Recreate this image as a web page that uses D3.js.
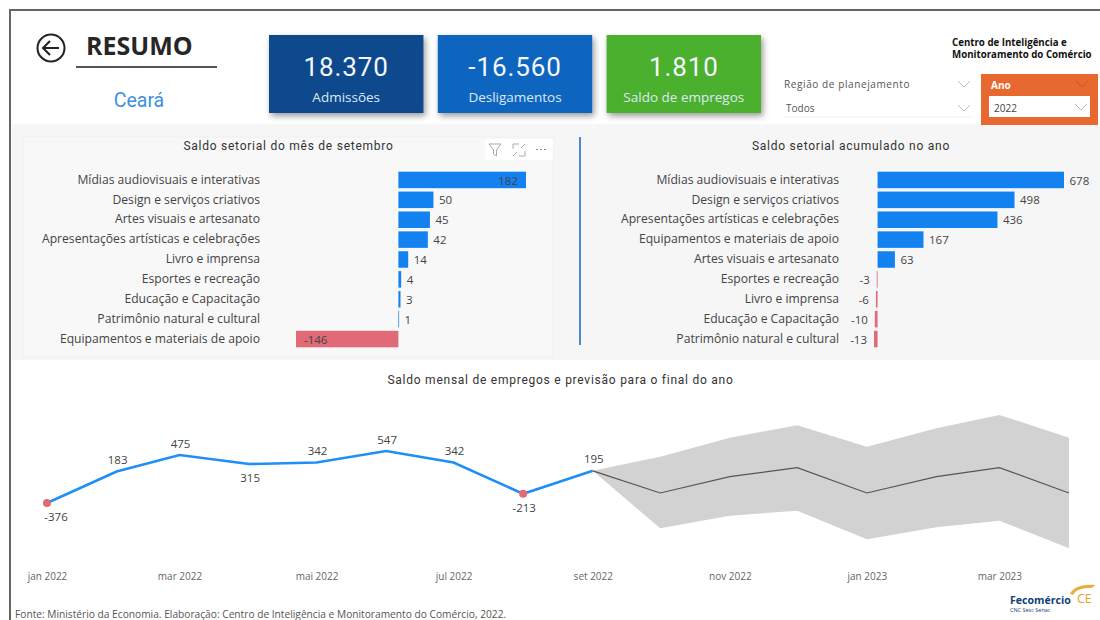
<!DOCTYPE html>
<html lang="pt"><head><meta charset="utf-8">
<script src="https://cdn.jsdelivr.net/npm/d3@7/dist/d3.min.js"></script>
<style>html,body{margin:0;padding:0;background:#fff;overflow:hidden}svg{display:block}</style>
</head><body><svg id="c" width="1100" height="620"></svg>
<script>
const monthCats = ["Mídias audiovisuais e interativas","Design e serviços criativos","Artes visuais e artesanato","Apresentações artísticas e celebrações","Livro e imprensa","Esportes e recreação","Educação e Capacitação","Patrimônio natural e cultural","Equipamentos e materiais de apoio"];
const monthVals = [182,50,45,42,14,4,3,1,-146];
const yearCats = ["Mídias audiovisuais e interativas","Design e serviços criativos","Apresentações artísticas e celebrações","Equipamentos e materiais de apoio","Artes visuais e artesanato","Esportes e recreação","Livro e imprensa","Educação e Capacitação","Patrimônio natural e cultural"];
const yearVals = [678,498,436,167,63,-3,-6,-10,-13];
const monthDates = ["2022-01-01","2022-02-01","2022-03-01","2022-04-01","2022-05-01","2022-06-01","2022-07-01","2022-08-01","2022-09-01","2022-10-01","2022-11-01","2022-12-01","2023-01-01","2023-02-01","2023-03-01","2023-04-01"];
const tickDates = ["2022-01-01","2022-03-01","2022-05-01","2022-07-01","2022-09-01","2022-11-01","2023-01-01","2023-03-01"];
const tickLabels = ["jan 2022","mar 2022","mai 2022","jul 2022","set 2022","nov 2022","jan 2023","mar 2023"];
const saldo = [-376,183,475,315,342,547,342,-213,195];
const forecastDates = monthDates.slice(8);
const forecast = [195,-198,91,251,-198,91,251,-198];
const upper = [195,446,784,1004,624,951,1187,784];
const lower = [195,-825,-602,-513,-1021,-808,-690,-1180];
const kpiValues = ["18.370","-16.560","1.810"];
const kpiLabels = ["Admissões","Desligamentos","Saldo de empregos"];
const kpiColors = ["#0b4a8c","#0f65bf","#4bb02e"];

const BODY = "'Open Sans',sans-serif", DIN = "Roboto,sans-serif";
const svg = d3.select("#c");
const defs = svg.append("defs");
const sh = defs.append("filter").attr("id","sh").attr("x","-10%").attr("y","-10%").attr("width","125%").attr("height","130%");
sh.append("feDropShadow").attr("dx",2).attr("dy",3).attr("stdDeviation",3).attr("flood-color","#000").attr("flood-opacity",.4);

// frame and section backgrounds
svg.append("rect").attr("x",12).attr("y",124).attr("width",1088).attr("height",236).attr("fill","#f6f6f6");
svg.append("path").attr("d","M10,620V10H1100").attr("fill","none").attr("stroke","#666").attr("stroke-width",2);
svg.append("rect").attr("x",23).attr("y",137).attr("width",530).attr("height",220).attr("fill","#f8f8f8").attr("stroke","#efefef");

// header
const T = (x,y,s,o={})=>svg.append("text").attr("x",x).attr("y",y).text(s)
  .attr("font-family",o.f||BODY).attr("font-size",o.s||12).attr("fill",o.c||"#333")
  .attr("text-anchor",o.a||"start").attr("font-weight",o.w||400)
  .attr("letter-spacing",o.l||0).attr("dominant-baseline","middle");
svg.append("circle").attr("cx",51).attr("cy",48).attr("r",13.5).attr("fill","none").attr("stroke","#222").attr("stroke-width",2);
svg.append("path").attr("d","M59,48H43M50,41L43,48L50,55").attr("fill","none").attr("stroke","#222").attr("stroke-width",2);
T(86,48,"RESUMO",{s:25,w:700,c:"#262626"});
svg.append("line").attr("x1",76).attr("x2",217).attr("y1",67).attr("y2",67).attr("stroke","#555").attr("stroke-width",2);
T(139,102,"Ceará",{s:19.5,c:"#3f8fe0",a:"middle",f:DIN});

// KPI cards
const kpiX = d3.scaleBand().domain(kpiLabels).range([269,761]).paddingInner(0.085);
kpiLabels.forEach((l,i)=>{
  const x = kpiX(l), w = kpiX.bandwidth();
  svg.append("rect").attr("x",x).attr("y",35).attr("width",w).attr("height",78).attr("fill",kpiColors[i]).attr("filter","url(#sh)");
  T(x+w/2,69,kpiValues[i],{s:26,c:"#f4f8fc",a:"middle",f:DIN,l:.9});
  T(x+w/2,98,l,{s:13.5,c:"#dfe9f4",a:"middle"});
});

// slicers
const chev = (x,y,c)=>svg.append("path").attr("d",`M${x-6},${y-3}L${x},${y+3}L${x+6},${y-3}`).attr("fill","none").attr("stroke",c).attr("stroke-width",1);
T(784,85,"Região de planejamento",{s:10,c:"#555",l:.6});
chev(964,84,"#bbb");
T(786,109,"Todos",{s:10,c:"#555"});
svg.append("line").attr("x1",784).attr("x2",972).attr("y1",117).attr("y2",117).attr("stroke","#f2f2f2");
chev(964,108,"#bbb");
svg.append("rect").attr("x",981).attr("y",74).attr("width",117).attr("height",51).attr("fill","#e8692f");
T(991,86,"Ano",{s:10,c:"#fff",w:700});
chev(1082,84,"#c9531f");
svg.append("rect").attr("x",989).attr("y",96).attr("width",101).attr("height",21).attr("fill","#fff");
T(994,109,"2022",{s:10,c:"#444"});
chev(1081,107,"#bbb");
T(952,43,"Centro de Inteligência e",{s:9.7,c:"#111",w:700});
T(952,55,"Monitoramento do Comércio",{s:9.7,c:"#111",w:700});

// bar panels
function bars(title,titleX,letter,cats,vals,x,labelX,plot){
  T(titleX,147,title,{s:12,c:"#333",a:"middle",f:DIN,l:letter});
  const y = d3.scaleBand().domain(cats).range([170,349]).paddingInner(.17).paddingOuter(.085);
  const g = svg.append("g");
  const zero = x(0);
  g.selectAll("rect").data(vals).join("rect")
    .attr("x",d=>Math.min(x(d),zero)).attr("width",d=>Math.abs(x(d)-zero))
    .attr("y",(d,i)=>y(cats[i])).attr("height",y.bandwidth())
    .attr("fill",d=>d<0?"#e06b76":"#1481f0");
  cats.forEach((c,i)=>{
    const v = vals[i], cy = y(c)+y.bandwidth()/2;
    T(labelX,cy+.5,c,{s:12.15,c:"#444",a:"end"});
    const out = v<0 ? x(v)-7 : x(v)+5.5;
    const fits = v<0 ? out-26>=plot[0] : out+26<=plot[1];
    if(fits) T(out,cy+1.5,String(v),{s:11.5,c:"#444",a:v<0?"end":"start"});
    else T(v<0?x(v)+8:x(v)-8,cy+1.5,String(v),{s:11.5,c:"#444",a:v<0?"start":"end"});
  });
}
bars("Saldo setorial do mês de setembro",288.5,.75,monthCats,monthVals,
  d3.scaleLinear().domain([-146,182]).range([296,526]),260,[296,530]);
bars("Saldo setorial acumulado no ano",851,.75,yearCats,yearVals,
  d3.scaleLinear().domain([-13,678]).range([874,1064]),839,[835,1100]);
svg.append("line").attr("x1",580).attr("x2",580).attr("y1",137).attr("y2",345).attr("stroke","#4a8ad0").attr("stroke-width",2);

// visual header icons
svg.append("rect").attr("x",485).attr("y",139).attr("width",68).attr("height",21).attr("fill","#fff");
const ic = svg.append("g").attr("fill","none").attr("stroke","#aaa");
ic.append("path").attr("d","M489,144H501L496.5,150V156L493.5,154V150Z");
ic.append("path").attr("d","M513,149V144H519M525,151V156H519M513,156L517,152M525,144L521,148");
ic.append("path").attr("d","M536,149.5h2M540,149.5h2M544,149.5h2").attr("stroke","#888");

// line chart
T(560.5,381,"Saldo mensal de empregos e previsão para o final do ano",{s:12,c:"#333",a:"middle",f:DIN,l:.75});
const X = d3.scaleUtc().domain([new Date(monthDates[0]),new Date(monthDates[15])]).range([47,1069]);
const Y = d3.scaleLinear().domain([-376,547]).range([503,451]);
const band = d3.area().x((d,i)=>X(new Date(forecastDates[i]))).y0((d,i)=>Y(lower[i])).y1(d=>Y(d));
svg.append("path").attr("d",band(upper)).attr("fill","#d2d2d2");
const fl = d3.line().x((d,i)=>X(new Date(forecastDates[i]))).y(d=>Y(d));
svg.append("path").attr("d",fl(forecast)).attr("fill","none").attr("stroke","#555").attr("stroke-width",1.2);
const sl = d3.line().x((d,i)=>X(new Date(monthDates[i]))).y(d=>Y(d));
svg.append("path").attr("d",sl(saldo)).attr("fill","none").attr("stroke","#1f8ff5").attr("stroke-width",2.6);
saldo.forEach((v,i)=>{
  const px = X(new Date(monthDates[i])), py = Y(v);
  if(v<0) svg.append("circle").attr("cx",px).attr("cy",py).attr("r",4).attr("fill","#e06b76");
  const prev = i>0?saldo[i-1]:Infinity, next = i<saldo.length-1?saldo[i+1]:Infinity;
  const below = v<prev && v<next;
  T(px+(i==0?9:1),py+(below?15:-10.5),String(v),{s:11.5,c:"#444",a:"middle"});
});
const axis = d3.axisBottom(X).tickValues(tickDates.map(d=>new Date(d))).tickFormat((d,i)=>tickLabels[i]).tickSize(0).tickPadding(0);
const ag = svg.append("g").attr("transform","translate(0,573)").call(axis);
ag.select(".domain").remove();
ag.selectAll("text").attr("font-family",BODY).attr("font-size",10).attr("fill","#666");

// footer
T(15,615,"Fonte: Ministério da Economia. Elaboração: Centro de Inteligência e Monitoramento do Comércio, 2022.",{s:10.2,c:"#555"});
T(1010,601,"Fecomércio",{s:10.6,c:"#123f75",w:700});
T(1077,600,"CE",{s:12.5,c:"#e8a020"});
svg.append("path").attr("d","M1070,594C1073,587 1083,584 1095,585C1094,587 1092,588 1090,588C1081,588 1076,590 1073,595Z").attr("fill","#e8b040");
T(1010,611,"CNC Sesc Senac",{s:5.5,c:"#123f75"});
</script></body></html>
